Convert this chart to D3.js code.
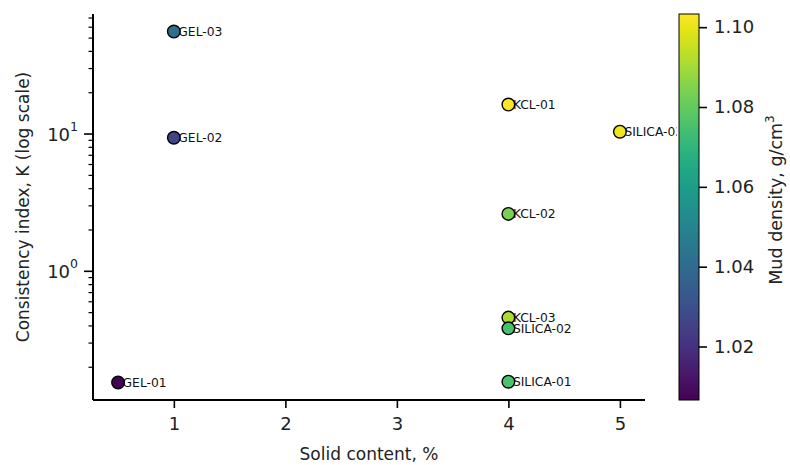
<!DOCTYPE html>
<html><head><meta charset="utf-8">
<script src="https://cdn.jsdelivr.net/npm/d3@7"></script>
<style>html,body{margin:0;padding:0;background:#fff}svg{display:block;font-family:"DejaVu Sans",sans-serif}</style>
</head><body><svg id="c" width="790" height="465"></svg>
<script>
const names = ["GEL-01","GEL-02","GEL-03","KCL-01","KCL-02","KCL-03","SILICA-01","SILICA-02","SILICA-03"];
const solidContent = [0.5, 1, 1, 4, 4, 4, 4, 4, 5];
const consistencyK = [0.155, 9.4, 55.8, 16.4, 2.62, 0.46, 0.157, 0.384, 10.4];
const mudDensity = [1.0066, 1.026, 1.041, 1.1033, 1.084, 1.091, 1.076, 1.075, 1.101];
const xTicks = [1, 2, 3, 4, 5];
const yMajorTicks = [1, 10];
const cbTicks = [1.02, 1.04, 1.06, 1.08, 1.10];

const svg = d3.select("#c");
const L = 93, R = 645, T = 14, B = 400;
const cbL = 679, cbR = 699;

const xmin = d3.min(solidContent), xmax = d3.max(solidContent);
const xm = (xmax - xmin) * 0.05;
const x = d3.scaleLinear().domain([xmin - xm, xmax + xm]).range([L, R]);
const lmin = Math.log10(d3.min(consistencyK)), lmax = Math.log10(d3.max(consistencyK));
const lm = (lmax - lmin) * 0.05;
const y = d3.scaleLog().domain([Math.pow(10, lmin - lm), Math.pow(10, lmax + lm)]).range([B, T]);
const vmin = d3.min(mudDensity), vmax = d3.max(mudDensity);
const color = d3.scaleSequential(d3.interpolateViridis).domain([vmin, vmax]);

const defs = svg.append("defs");
defs.append("clipPath").attr("id","lblclip")
  .append("rect").attr("x",0).attr("y",0).attr("width",677).attr("height",465);

const data = names.map((n,i)=>({n, x:solidContent[i], k:consistencyK[i], d:mudDensity[i]}));
svg.append("g").attr("clip-path","url(#lblclip)").selectAll("text").data(data).join("text")
  .attr("x", d=>x(d.x)+4.5).attr("y", d=>y(d.k)).attr("dy","0.36em")
  .attr("font-size", 12.3).attr("fill","#111").text(d=>d.n);

svg.append("g").selectAll("circle").data(data).join("circle")
  .attr("cx", d=>x(d.x)).attr("cy", d=>y(d.k)).attr("r", 6.3)
  .attr("fill", d=>color(d.d)).attr("stroke","#000").attr("stroke-width",1.4);

// x axis
const xa = svg.append("g").attr("transform",`translate(0,${B})`)
  .call(d3.axisBottom(x).tickValues(xTicks).tickFormat(d3.format("d")).tickSize(8).tickPadding(9));
xa.select(".domain").attr("stroke","#000").attr("stroke-width",2).attr("d",`M${L},0H${R}`);
xa.selectAll(".tick line").attr("stroke-width",1.6);
xa.selectAll(".tick text").attr("font-size",18).attr("font-family","DejaVu Sans").attr("fill","#222");

// y axis
const ya = svg.append("g").attr("transform",`translate(${L},0)`);
ya.append("line").attr("x1",0).attr("x2",0).attr("y1",T).attr("y2",B).attr("stroke","#000").attr("stroke-width",2);
const [d0,d1] = y.domain();
const minors = [];
for (let e = Math.floor(Math.log10(d0)); e <= Math.ceil(Math.log10(d1)); e++) {
  for (let m = 2; m <= 9; m++) { const v = m*Math.pow(10,e); if (v>=d0 && v<=d1) minors.push(v); }
}
ya.selectAll(".mn").data(minors).join("line").attr("class","mn")
  .attr("x1",-4.5).attr("x2",0).attr("y1",d=>y(d)).attr("y2",d=>y(d)).attr("stroke","#000").attr("stroke-width",1.2);
ya.selectAll(".mj").data(yMajorTicks).join("line").attr("class","mj")
  .attr("x1",-9).attr("x2",0).attr("y1",d=>y(d)).attr("y2",d=>y(d)).attr("stroke","#000").attr("stroke-width",1.6);
const yl = ya.selectAll(".yl").data(yMajorTicks).join("text").attr("class","yl")
  .attr("x",-15).attr("y",d=>y(d)).attr("dy","0.36em").attr("text-anchor","end").attr("font-size",18).attr("fill","#222");
yl.append("tspan").text("10");
yl.append("tspan").attr("font-size",12.5).attr("dy","-0.75em").text(d=>String(Math.round(Math.log10(d))));

// axis titles
svg.append("text").attr("x",(L+R)/2).attr("y",460).attr("text-anchor","middle").attr("font-size",17).attr("fill","#222").text("Solid content, %");
svg.append("text").attr("transform",`translate(29,${(T+B)/2}) rotate(-90)`).attr("text-anchor","middle").attr("font-size",17).attr("fill","#222").text("Consistency index, K (log scale)");

// colorbar
const grad = defs.append("linearGradient").attr("id","vg").attr("x1",0).attr("y1",1).attr("x2",0).attr("y2",0);
d3.range(0,1.0001,0.05).forEach(t=>grad.append("stop").attr("offset",t).attr("stop-color",d3.interpolateViridis(t)));
svg.append("rect").attr("x",cbL).attr("y",T).attr("width",cbR-cbL).attr("height",B-T).attr("fill","url(#vg)").attr("stroke","#000").attr("stroke-width",1);
const cy = d3.scaleLinear().domain([vmin,vmax]).range([B,T]);
const ca = svg.append("g").attr("transform",`translate(${cbR},0)`)
  .call(d3.axisRight(cy).tickValues(cbTicks).tickFormat(d3.format(".2f")).tickSize(8).tickPadding(7));
ca.select(".domain").remove();
ca.selectAll(".tick line").attr("stroke-width",1.6);
ca.selectAll(".tick text").attr("font-size",18).attr("font-family","DejaVu Sans").attr("fill","#222");
const ct = svg.append("text").attr("transform",`translate(782,200) rotate(-90)`).attr("text-anchor","middle").attr("font-size",17.5).attr("fill","#222");
ct.append("tspan").text("Mud density, g/cm");
ct.append("tspan").attr("font-size",12).attr("dy","-0.7em").text("3");
</script></body></html>
